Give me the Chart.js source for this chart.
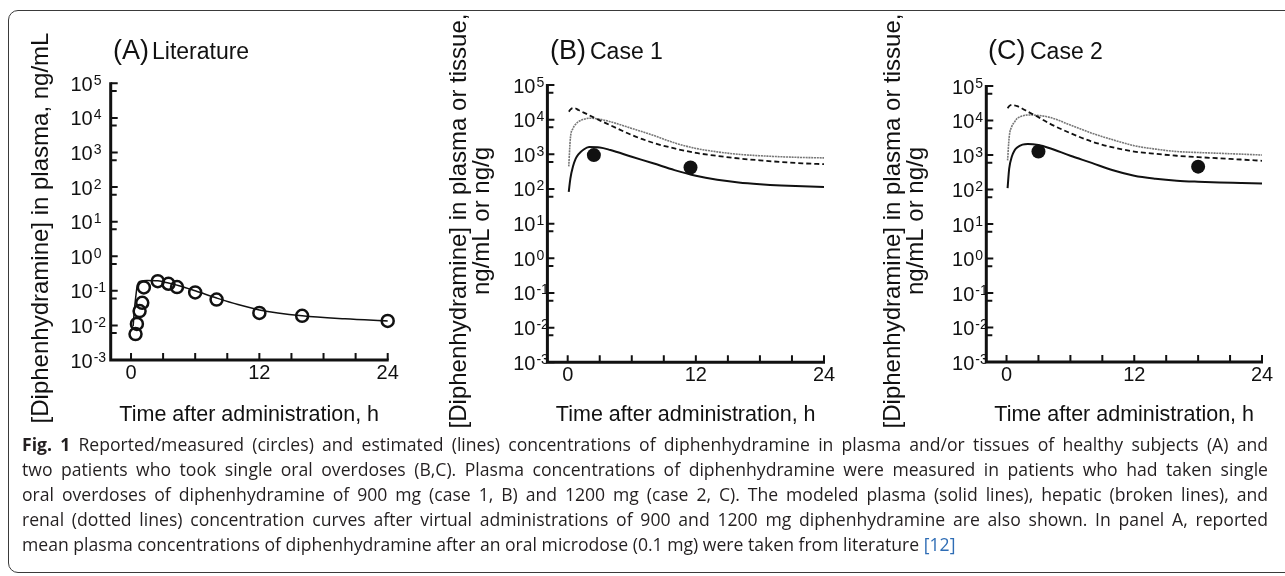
<!DOCTYPE html>
<html>
<head>
<meta charset="utf-8">
<script src="https://cdn.jsdelivr.net/npm/chart.js@4.4.1/dist/chart.umd.min.js"></script>
<style>
  html, body { margin: 0; padding: 0; background: #fff; overflow: hidden; }
  body { width: 1285px; height: 576px; position: relative; }
  .frame { position: absolute; left: 8px; top: 10px; width: 1300px; height: 563px;
           border: 1.5px solid #3a3a3a; border-radius: 10px; box-sizing: border-box; }
  canvas { position: absolute; left: 0; top: 0; }
  .caption { position: absolute; left: 22px; top: 432px; width: 1246px;
             font-family: "Open Sans", sans-serif; font-size: 17.6px; line-height: 25px; color: #231f20; }
  .caption div { text-align: justify; text-align-last: justify; }
  .caption div.last { text-align-last: left; }
  .caption .ref { color: #2f6db5; }
</style>
</head>
<body>
<div class="frame"></div>
<canvas id="panelA" width="1285" height="440"></canvas>
<canvas id="panelB" width="1285" height="440"></canvas>
<canvas id="panelC" width="1285" height="440"></canvas>
<div class="caption">
  <div><b>Fig. 1</b> Reported/measured (circles) and estimated (lines) concentrations of diphenhydramine in plasma and/or tissues of healthy subjects (A) and</div>
  <div>two patients who took single oral overdoses (B,C). Plasma concentrations of diphenhydramine were measured in patients who had taken single</div>
  <div>oral overdoses of diphenhydramine of 900 mg (case 1, B) and 1200 mg (case 2, C). The modeled plasma (solid lines), hepatic (broken lines), and</div>
  <div>renal (dotted lines) concentration curves after virtual administrations of 900 and 1200 mg diphenhydramine are also shown. In panel A, reported</div>
  <div class="last">mean plasma concentrations of diphenhydramine after an oral microdose (0.1 mg) were taken from literature <span class="ref">[12]</span></div>
</div>
<script>
// axes
const timeTicks = [0, 3, 6, 9, 12, 15, 18, 21, 24];
const timeLabels = [0, 12, 24];
const decadeExps = [-3, -2, -1, 0, 1, 2, 3, 4, 5];
const minorTicks = [6e-3, 6e-2, 0.6, 6, 60, 600, 6e3, 6e4];

// (A) literature, 0.1 mg oral microdose
const litTime = [0.42, 0.55, 0.8, 1.05, 1.2, 2.5, 3.5, 4.3, 6, 8, 12, 16, 24];
const litConc = [0.0056, 0.011, 0.026, 0.045, 0.125, 0.19, 0.16, 0.128, 0.09, 0.056, 0.023, 0.019, 0.0135];
const litFitTime = [0.2, 0.3, 0.45, 0.6, 0.9, 1.5, 2.5, 3.5, 4.5, 6, 8, 10, 12, 16, 20, 24];
const litFitConc = [0.0095, 0.025, 0.07, 0.15, 0.19, 0.2, 0.195, 0.168, 0.14, 0.1, 0.062, 0.04, 0.028, 0.019, 0.0155, 0.0135];

// model curves, (B) case 1 and (C) case 2
const modelTime = [0.1, 0.25, 0.5, 0.75, 1, 1.5, 2, 3, 4, 6, 8, 10, 12, 14, 16, 18, 20, 22, 24];
const case1Plasma = [83, 200, 450, 750, 1000, 1380, 1620, 1580, 1330, 850, 550, 350, 240, 185, 155, 138, 127, 120, 115];
const case1Liver = [17000, 19500, 21500, 21000, 19000, 16000, 13500, 9500, 6900, 3600, 2150, 1480, 1100, 900, 760, 670, 600, 550, 520];
const case1Kidney = [450, 2900, 5600, 7400, 8800, 10200, 11000, 10300, 8700, 5600, 3550, 2140, 1480, 1180, 1000, 910, 850, 810, 790];
const case1Time = [2.45, 11.5];
const case1Conc = [950, 415];

const case2Plasma = [110, 400, 900, 1350, 1650, 2000, 2100, 1950, 1600, 950, 590, 360, 250, 205, 180, 168, 160, 155, 150];
const case2Liver = [22700, 26000, 28300, 27500, 26000, 22000, 18000, 12500, 8300, 4300, 2460, 1660, 1260, 1080, 950, 870, 800, 740, 680];
const case2Kidney = [700, 3300, 6800, 9000, 11500, 13500, 14500, 14000, 12500, 7400, 4300, 2750, 1860, 1480, 1260, 1180, 1120, 1060, 1000];
const case2Time = [3.0, 18.0];
const case2Conc = [1260, 460];

const pts = (xs, ys) => xs.map((t, i) => ({ x: t, y: ys[i] }));
const FONT = '"Liberation Sans", Arial, Helvetica, sans-serif';

const axesPlugin = {
  id: "paperAxes",
  afterDraw(chart, args, o) {
    const ctx = chart.ctx;
    const x = chart.scales.x, y = chart.scales.y;
    const left = chart.chartArea.left;
    const x24 = x.getPixelForValue(24);
    const yTop = y.getPixelForValue(1e5);
    const yBot = y.getPixelForValue(1e-3);
    ctx.save();
    ctx.strokeStyle = "#111";
    ctx.fillStyle = "#111";

    ctx.lineWidth = 3;
    ctx.beginPath();
    ctx.moveTo(left, yTop - 1);
    ctx.lineTo(left, yBot);
    ctx.lineTo(x24 + 1, yBot);
    ctx.stroke();

    ctx.lineWidth = 2;
    ctx.beginPath();
    decadeExps.forEach((e) => {
      const py = y.getPixelForValue(10 ** e);
      ctx.moveTo(left, py);
      ctx.lineTo(left + 7, py);
    });
    minorTicks.forEach((v) => {
      const py = y.getPixelForValue(v);
      ctx.moveTo(left, py);
      ctx.lineTo(left + 6, py);
    });
    timeTicks.forEach((t) => {
      const px = x.getPixelForValue(t);
      ctx.moveTo(px, yBot);
      ctx.lineTo(px, yBot - 7);
    });
    ctx.stroke();

    // tick labels
    ctx.textBaseline = "alphabetic";
    decadeExps.forEach((e) => {
      const py = y.getPixelForValue(10 ** e);
      ctx.font = "20px " + FONT;
      ctx.textAlign = "right";
      const right = left - o.labelGap;
      ctx.fillText("10", right, py + 7.5);
      ctx.font = "14px " + FONT;
      ctx.textAlign = "left";
      ctx.fillText(e < 0 ? "-" + Math.abs(e) : String(e), right + 1, py + 1.5);
    });
    ctx.font = "20px " + FONT;
    ctx.textAlign = "center";
    timeLabels.forEach((t) => {
      ctx.fillText(String(t), x.getPixelForValue(t), yBot + 19);
    });

    // axis titles
    ctx.font = "21.5px " + FONT;
    ctx.fillText("Time after administration, h", (left + x24) / 2, 421);

    ctx.font = "24px " + FONT;
    o.yTitle.forEach((line, i) => {
      ctx.save();
      ctx.translate(o.yTitleX[i], o.yTitleY);
      ctx.rotate(-Math.PI / 2);
      ctx.textAlign = "center";
      ctx.textBaseline = "middle";
      ctx.fillText(line, 0, 0);
      ctx.restore();
    });

    // panel title
    ctx.textAlign = "left";
    ctx.font = "27px " + FONT;
    ctx.fillText(o.letter, o.titleX, 59);
    ctx.font = "23px " + FONT;
    ctx.fillText(o.name, o.nameX, 59);
    ctx.restore();
  },
};

function makePanel(id, padding, datasets, text) {
  return new Chart(document.getElementById(id), {
    type: "scatter",
    data: { datasets },
    options: {
      responsive: false,
      animation: false,
      layout: { padding },
      scales: {
        x: { type: "linear", min: -1.9, max: 24, display: false },
        y: { type: "logarithmic", min: 1e-3, max: 1e5, display: false },
      },
      plugins: { legend: { display: false }, tooltip: { enabled: false }, paperAxes: text },
    },
    plugins: [axesPlugin],
  });
}

const solid = (data, w) => ({ data, showLine: true, borderColor: "#111", borderWidth: w, pointRadius: 0, cubicInterpolationMode: "monotone", clip: false });
const dashed = (data) => ({ data, showLine: true, borderColor: "#111", borderWidth: 1.8, borderDash: [5, 3], pointRadius: 0, cubicInterpolationMode: "monotone", clip: false });
const dotted = (data) => ({ data, showLine: true, borderColor: "#777", borderWidth: 1.6, borderDash: [2, 0.8], pointRadius: 0, cubicInterpolationMode: "monotone", clip: false });
const filledDots = (data) => ({ data, showLine: false, pointRadius: 7, pointBackgroundColor: "#111", pointBorderColor: "#111", pointBorderWidth: 0, clip: false });

makePanel("panelA", { left: 110.7, right: 1285 - 387.7, top: 83.3, bottom: 440 - 360 }, [
  { data: pts(litTime, litConc), showLine: false, pointRadius: 6, pointBorderWidth: 2.5,
    pointBorderColor: "#111", pointBackgroundColor: "rgba(0,0,0,0)", clip: false },
  solid(pts(litFitTime, litFitConc), 1.5),
], { letter: "(A)", titleX: 113, name: "Literature", nameX: 152, labelGap: 18,
     yTitle: ["[Diphenhydramine] in plasma, ng/mL"], yTitleX: [41], yTitleY: 228 });

makePanel("panelB", { left: 547.4, right: 1285 - 824, top: 85, bottom: 440 - 362.3 }, [
  filledDots(pts(case1Time, case1Conc)),
  solid(pts(modelTime, case1Plasma), 2),
  dashed(pts(modelTime, case1Liver)),
  dotted(pts(modelTime, case1Kidney)),
], { letter: "(B)", titleX: 550, name: "Case 1", nameX: 590, labelGap: 12,
     yTitle: ["[Diphenhydramine] in plasma or tissue,", "ng/mL or ng/g"], yTitleX: [459, 482], yTitleY: 221 });

makePanel("panelC", { left: 986.3, right: 1285 - 1262, top: 86, bottom: 440 - 362 }, [
  filledDots(pts(case2Time, case2Conc)),
  solid(pts(modelTime, case2Plasma), 2),
  dashed(pts(modelTime, case2Liver)),
  dotted(pts(modelTime, case2Kidney)),
], { letter: "(C)", titleX: 988, name: "Case 2", nameX: 1030, labelGap: 12,
     yTitle: ["[Diphenhydramine] in plasma or tissue,", "ng/mL or ng/g"], yTitleX: [893, 916], yTitleY: 221 });
</script>
</body>
</html>
